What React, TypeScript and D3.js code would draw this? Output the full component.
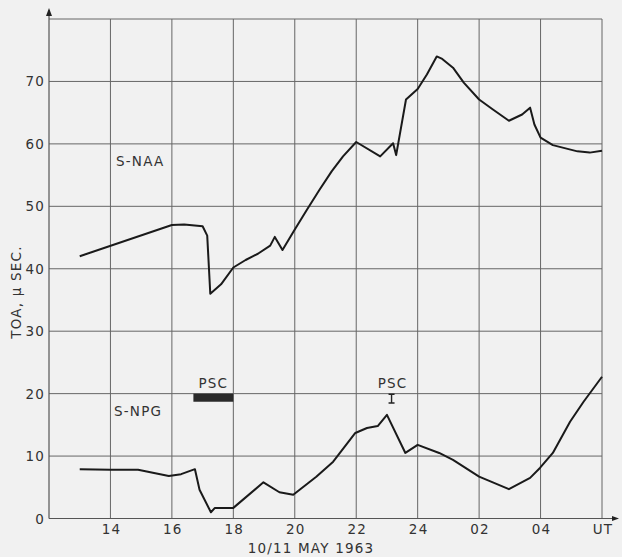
import React, { useEffect, useRef } from "react";
import * as d3 from "d3";

// hours since 00 UT on 10 May (24 = midnight, 30 = 06 UT on 11 May)
const naaHours = [13.0, 16.0, 16.4, 17.0, 17.15, 17.25, 17.6, 18.0, 18.4, 18.8, 19.2, 19.35, 19.6, 20.0, 20.4, 20.8, 21.2, 21.57, 22.0, 22.78, 23.2, 23.3, 23.62, 24.0, 24.3, 24.62, 24.8, 25.15, 25.5, 26.0, 26.45, 26.97, 27.4, 27.66, 27.8, 28.0, 28.4, 29.2, 29.6, 30.0];
const naaToa = [42.0, 47.0, 47.1, 46.8, 45.3, 36.0, 37.5, 40.2, 41.4, 42.4, 43.7, 45.1, 43.0, 46.3, 49.5, 52.6, 55.6, 58.0, 60.3, 58.0, 60.1, 58.2, 67.1, 68.8, 71.1, 74.0, 73.6, 72.2, 69.8, 67.1, 65.5, 63.7, 64.7, 65.8, 63.1, 61.0, 59.8, 58.8, 58.6, 58.9];

const npgHours = [13.0, 14.0, 14.9, 15.9, 16.3, 16.75, 16.9, 17.27, 17.4, 18.0, 18.98, 19.5, 19.95, 20.7, 21.25, 21.97, 22.35, 22.7, 23.0, 23.6, 24.0, 24.7, 25.15, 26.0, 26.97, 27.66, 27.98, 28.4, 28.96, 29.4, 30.0];
const npgToa = [7.9, 7.8, 7.8, 6.8, 7.1, 7.9, 4.6, 1.0, 1.7, 1.7, 5.8, 4.2, 3.8, 6.7, 9.1, 13.7, 14.5, 14.8, 16.6, 10.5, 11.8, 10.5, 9.4, 6.7, 4.7, 6.5, 8.1, 10.5, 15.5, 18.7, 22.7];

const xTicks = [14, 16, 18, 20, 22, 24, 26, 28, 30];
const xTickLabels = ["14", "16", "18", "20", "22", "24", "02", "04", "UT"];
const yTicks = [0, 10, 20, 30, 40, 50, 60, 70];
const yGrid = [0, 10, 20, 30, 40, 50, 60, 70, 80];

// PSC markers
const pscBar = { from: 16.7, to: 18.0, low: 18.7, high: 20.0 };
const pscSpike = { at: 23.15, low: 18.5, high: 19.9 };

const W = 622;
const H = 557;
const font = "'DejaVu Sans', sans-serif";

export default function App() {
  const ref = useRef<SVGSVGElement>(null);

  useEffect(() => {
    const svg = d3.select(ref.current);
    svg.selectAll("*").remove();

    const x = d3.scaleLinear().domain([12, 30]).range([49, 602]);
    const y = d3.scaleLinear().domain([0, 80]).range([518.5, 19]);

    svg.append("rect").attr("width", W).attr("height", H).attr("fill", "#f1f1f1");

    const grid = svg.append("g").attr("stroke", "#666").attr("stroke-width", 1).attr("fill", "none");
    xTicks.forEach((t) => {
      grid.append("line").attr("x1", x(t)).attr("x2", x(t)).attr("y1", y(0)).attr("y2", y(80));
    });
    yGrid.forEach((t) => {
      grid.append("line").attr("x1", x(12)).attr("x2", x(30)).attr("y1", y(t)).attr("y2", y(t));
    });

    // axes with arrows
    svg.append("line").attr("x1", x(12)).attr("x2", x(12)).attr("y1", y(0)).attr("y2", 10).attr("stroke", "#555").attr("stroke-width", 1.2);
    svg.append("line").attr("x1", x(12)).attr("x2", 614).attr("y1", y(0)).attr("y2", y(0)).attr("stroke", "#555").attr("stroke-width", 1.2);
    svg.append("path").attr("d", `M${x(12)},8 L${x(12) - 3},16 L${x(12) + 3},16 Z`).attr("fill", "#222");
    svg.append("path").attr("d", `M619,${y(0)} L612,${y(0) - 2.5} L612,${y(0) + 2.5} Z`).attr("fill", "#222");

    const txt = svg.append("g").attr("font-family", font).attr("fill", "#333").attr("font-size", 13.5).attr("letter-spacing", 1.2);

    yTicks.forEach((t) => {
      txt.append("text").attr("x", 45).attr("y", y(t) + 5).attr("text-anchor", "end").text(String(t));
    });
    xTicks.forEach((t, i) => {
      txt.append("text").attr("x", x(t) + 1).attr("y", 534).attr("text-anchor", "middle").text(xTickLabels[i]);
    });

    txt.append("text").attr("x", 311).attr("y", 553).attr("text-anchor", "middle").text("10/11 MAY 1963");
    txt.append("text")
      .attr("transform", "translate(21,292) rotate(-90)")
      .attr("text-anchor", "middle")
      .text("TOA, \u03bc SEC.");

    txt.append("text").attr("x", 116).attr("y", 166).text("S-NAA");
    txt.append("text").attr("x", 114).attr("y", 416).text("S-NPG");
    txt.append("text").attr("x", (x(pscBar.from) + x(pscBar.to)) / 2).attr("y", 388).attr("text-anchor", "middle").text("PSC");
    txt.append("text").attr("x", x(pscSpike.at) + 1).attr("y", 388).attr("text-anchor", "middle").text("PSC");

    svg.append("rect")
      .attr("x", x(pscBar.from)).attr("width", x(pscBar.to) - x(pscBar.from))
      .attr("y", y(pscBar.high)).attr("height", y(pscBar.low) - y(pscBar.high))
      .attr("fill", "#2a2a2a");

    const sx = x(pscSpike.at);
    svg.append("path")
      .attr("d", `M${sx},${y(pscSpike.high)} V${y(pscSpike.low)} M${sx - 3},${y(pscSpike.high)} H${sx + 3} M${sx - 3},${y(pscSpike.low)} H${sx + 3}`)
      .attr("stroke", "#222").attr("stroke-width", 1.4).attr("fill", "none");

    const line = d3.line<[number, number]>().x((d) => x(d[0])).y((d) => y(d[1]));
    const naa = naaHours.map((h, i) => [h, naaToa[i]] as [number, number]);
    const npg = npgHours.map((h, i) => [h, npgToa[i]] as [number, number]);

    [naa, npg].forEach((d) => {
      svg.append("path").datum(d).attr("d", line).attr("fill", "none")
        .attr("stroke", "#1a1a1a").attr("stroke-width", 2).attr("stroke-linejoin", "round");
    });
  }, []);

  return (
    <div>
      <svg ref={ref} width={W} height={H} style={{ position: "absolute", left: 0, top: 0 }}></svg>
    </div>
  );
}
